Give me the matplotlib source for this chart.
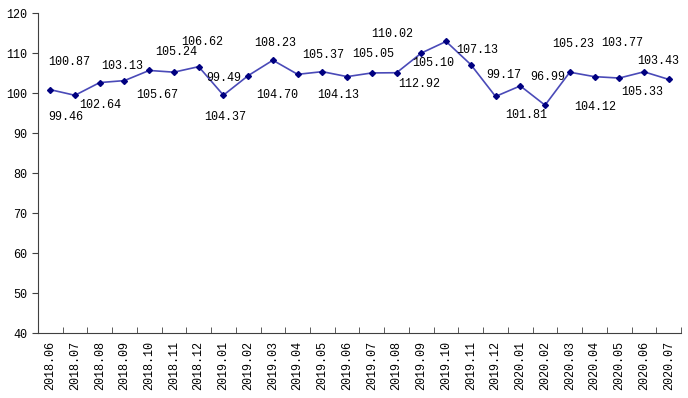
import matplotlib
matplotlib.use("Agg")
import matplotlib.pyplot as plt

months = ["2018.06", "2018.07", "2018.08", "2018.09", "2018.10", "2018.11", "2018.12",
          "2019.01", "2019.02", "2019.03", "2019.04", "2019.05", "2019.06", "2019.07",
          "2019.08", "2019.09", "2019.10", "2019.11", "2019.12", "2020.01", "2020.02",
          "2020.03", "2020.04", "2020.05", "2020.06", "2020.07"]
values = [100.87, 99.46, 102.64, 103.13, 105.67, 105.24, 106.62, 99.49, 104.37, 108.23,
          104.70, 105.37, 104.13, 105.05, 105.10, 110.02, 112.92, 107.13, 99.17, 101.81,
          96.99, 105.23, 104.12, 103.77, 105.33, 103.43]

# label offsets in pixels (dx, dy), dy positive = up
offsets = [(19, 28), (-9, -22), (0, -22), (-2, 15), (8, -25), (2, 20), (4, 25), (0, 17),
           (-23, -41), (2, 17), (-20, -21), (1, 17), (-9, -18), (1, 19), (37, 10), (-29, 19),
           (-27, -43), (6, 15), (8, 21), (6, -29), (3, 28), (3, 28), (1, -30), (3, 35),
           (-2, -20), (-11, 18)]

mono = "Liberation Mono"

fig = plt.figure(figsize=(6.88, 3.98), dpi=100)
ax = fig.add_axes([0.055, 0.163, 0.935, 0.804])

x = list(range(len(months)))
ax.plot(x, values, color="#4a4ab8", lw=1.2, marker="D", markersize=3,
        markerfacecolor="#000080", markeredgecolor="#000080")

for i, v in enumerate(values):
    dx, dy = offsets[i]
    ax.annotate(f"{v:.2f}", (i, v), xytext=(dx, dy), textcoords="offset pixels",
                ha="center", va="center", fontsize=8.5, family=mono, color="black")

ax.set_xlim(-0.5, len(months) - 0.5)
ax.set_ylim(40, 120)
ax.set_yticks(range(40, 121, 10))
ax.set_yticklabels([str(t) for t in range(40, 121, 10)], family=mono, fontsize=8.5)

ax.set_xticks(x)
ax.set_xticklabels(months, rotation=90, family=mono, fontsize=8.5)
ax.tick_params(axis="x", which="major", length=0, pad=6)
ax.set_xticks([i + 0.5 for i in range(-1, len(months))], minor=True)
ax.tick_params(axis="x", which="minor", direction="in", length=4, color="#404040")
ax.tick_params(axis="y", direction="out", length=4, color="#404040")

for s in ["top", "right"]:
    ax.spines[s].set_visible(False)
for s in ["left", "bottom"]:
    ax.spines[s].set_color("#404040")
    ax.spines[s].set_linewidth(0.8)

fig.savefig("out.png", dpi=100)
